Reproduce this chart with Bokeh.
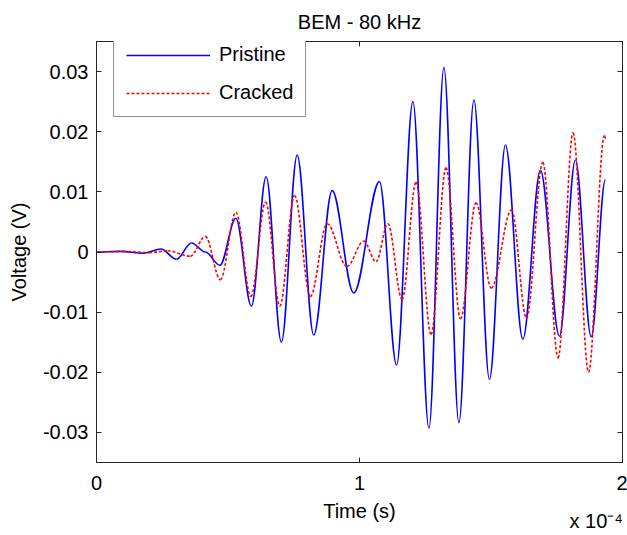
import numpy as np
from bokeh.plotting import figure
from bokeh.models import (ColumnDataSource, FixedTicker, CustomJSTickFormatter,
                          LinearAxis, Range1d)
from bokeh.embed import file_html
from bokeh.resources import INLINE

# time in units of 1e-4 s (axis shows "x 10^-4"), voltage in V
pristine_t = [0.0, 0.09, 0.18, 0.245, 0.304, 0.361, 0.414, 0.469, 0.530, 0.589,
              0.645, 0.703, 0.763, 0.826, 0.896, 0.978, 1.076, 1.141, 1.203, 1.264,
              1.321, 1.378, 1.435, 1.494, 1.555, 1.621, 1.688, 1.760, 1.821, 1.881, 1.935]
pristine_v = [0.0, 0.0001, -0.0002, 0.0005, -0.0012, 0.0015, 0.0, -0.0022, 0.0056, -0.0090,
              0.0125, -0.0150, 0.0161, -0.0138, 0.0102, -0.0068, 0.0117, -0.0188, 0.0250, -0.0293,
              0.0307, -0.0284, 0.0253, -0.0212, 0.0178, -0.0145, 0.0136, -0.0140, 0.0153, -0.0141, 0.0120]

cracked_t = [0.0, 0.10, 0.20, 0.27, 0.357, 0.414, 0.471, 0.530, 0.587, 0.643,
             0.697, 0.753, 0.813, 0.877, 0.952, 1.016, 1.063, 1.108, 1.162, 1.215,
             1.272, 1.329, 1.384, 1.443, 1.501, 1.578, 1.635, 1.697, 1.755, 1.812,
             1.871, 1.931, 1.937]
cracked_v = [0.0, 0.0001, -0.0001, 0.0002, -0.0007, 0.0026, -0.0046, 0.0066, -0.0074, 0.0083,
             -0.0090, 0.0094, -0.0074, 0.0047, -0.0024, 0.0018, -0.0016, 0.0047, -0.0079, 0.0116,
             -0.0137, 0.0140, -0.0111, 0.0082, -0.0060, 0.0070, -0.0110, 0.0149, -0.0176, 0.0198,
             -0.0200, 0.0193, 0.0189]

x_ticks = [0, 1, 2]
y_ticks = [-0.03, -0.02, -0.01, 0.0, 0.01, 0.02, 0.03]
multiplier_text = "x 10\u207b\u2074"
multiplier_pos = [1.9]

FONT = "Liberation Sans"


def bezier_source(t, v, k=0.35):
    t = np.asarray(t, float)
    v = np.asarray(v, float)
    dt = np.diff(t)
    return ColumnDataSource(dict(x0=t[:-1], y0=v[:-1], x1=t[1:], y1=v[1:],
                                 cx0=t[:-1] + k * dt, cy0=v[:-1],
                                 cx1=t[1:] - k * dt, cy1=v[1:]))


p = figure(width=627, height=535, output_backend="svg", toolbar_location=None,
           title="BEM - 80 kHz", x_range=Range1d(0, 2), y_range=Range1d(-0.035, 0.035),
           min_border_left=96, min_border_right=5, min_border_top=41, min_border_bottom=73)
p.background_fill_color = "white"
p.border_fill_color = "white"
p.outline_line_color = "#262626"
p.xgrid.visible = False
p.ygrid.visible = False

p.title.align = "center"
p.title.text_font = FONT
p.title.text_font_size = "20px"
p.title.text_font_style = "normal"
p.title.text_color = "black"
p.title.standoff = 17

p.bezier(x0="x0", y0="y0", x1="x1", y1="y1", cx0="cx0", cy0="cy0", cx1="cx1", cy1="cy1",
         source=bezier_source(pristine_t, pristine_v), line_color="#0000FF", line_width=1.6,
         legend_label="Pristine")
p.bezier(x0="x0", y0="y0", x1="x1", y1="y1", cx0="cx0", cy0="cy0", cx1="cx1", cy1="cy1",
         source=bezier_source(cracked_t, cracked_v), line_color="#FF0000", line_width=1.6,
         line_dash="3 2", legend_label="Cracked")

for ax in (p.xaxis[0], p.yaxis[0]):
    ax.major_tick_in = 5
    ax.major_tick_out = 0
    ax.minor_tick_line_color = None
    ax.axis_line_color = "#262626"
    ax.major_tick_line_color = "#262626"
    ax.major_label_text_font = FONT
    ax.major_label_text_font_size = "20px"
    ax.major_label_text_color = "black"
    ax.axis_label_text_font = FONT
    ax.axis_label_text_font_size = "20px"
    ax.axis_label_text_font_style = "normal"
    ax.axis_label_text_color = "black"

p.xaxis[0].ticker = FixedTicker(ticks=x_ticks)
p.xaxis[0].axis_label = "Time (s)"
p.xaxis[0].major_label_standoff = 13
p.xaxis[0].axis_label_standoff = 7
p.yaxis[0].ticker = FixedTicker(ticks=y_ticks)
p.yaxis[0].formatter = CustomJSTickFormatter(
    code="if (Math.abs(tick) < 1e-9) { return '0'; } return String(Math.round(tick * 100) / 100);")
p.yaxis[0].axis_label = "Voltage (V)"
p.yaxis[0].major_label_standoff = 8
p.yaxis[0].axis_label_standoff = 10

top = LinearAxis(ticker=FixedTicker(ticks=x_ticks))
right = LinearAxis(ticker=FixedTicker(ticks=y_ticks))
for ax in (top, right):
    ax.major_tick_in = 5
    ax.major_tick_out = 0
    ax.minor_tick_line_color = None
    ax.formatter = CustomJSTickFormatter(code="return '';")
    ax.major_label_standoff = 0
    ax.axis_line_color = "#262626"
    ax.major_tick_line_color = "#262626"
p.add_layout(top, "above")
p.add_layout(right, "right")

# exponent note under the x axis (MATLAB style "x 10^-4")
mult_axis = LinearAxis(ticker=FixedTicker(ticks=multiplier_pos))
mult_axis.formatter = CustomJSTickFormatter(args=dict(txt=multiplier_text), code="return txt;")
mult_axis.axis_line_color = None
mult_axis.major_tick_line_color = None
mult_axis.minor_tick_line_color = None
mult_axis.major_tick_in = 0
mult_axis.major_tick_out = 0
mult_axis.major_label_standoff = -15
mult_axis.major_label_text_font = FONT
mult_axis.major_label_text_font_size = "20px"
mult_axis.major_label_text_color = "black"
p.add_layout(mult_axis, "below")

lg = p.legend[0]
lg.location = (17, 345)
lg.border_line_color = "#262626"
lg.border_line_width = 1
lg.background_fill_alpha = 1
lg.padding = 12
lg.spacing = 15
lg.glyph_width = 84
lg.glyph_height = 16
lg.label_height = 16
lg.label_standoff = 9
lg.label_text_font = FONT
lg.label_text_font_size = "20px"
lg.label_text_color = "black"
lg.margin = 0

open("out.html", "w").write(file_html(p, INLINE))
